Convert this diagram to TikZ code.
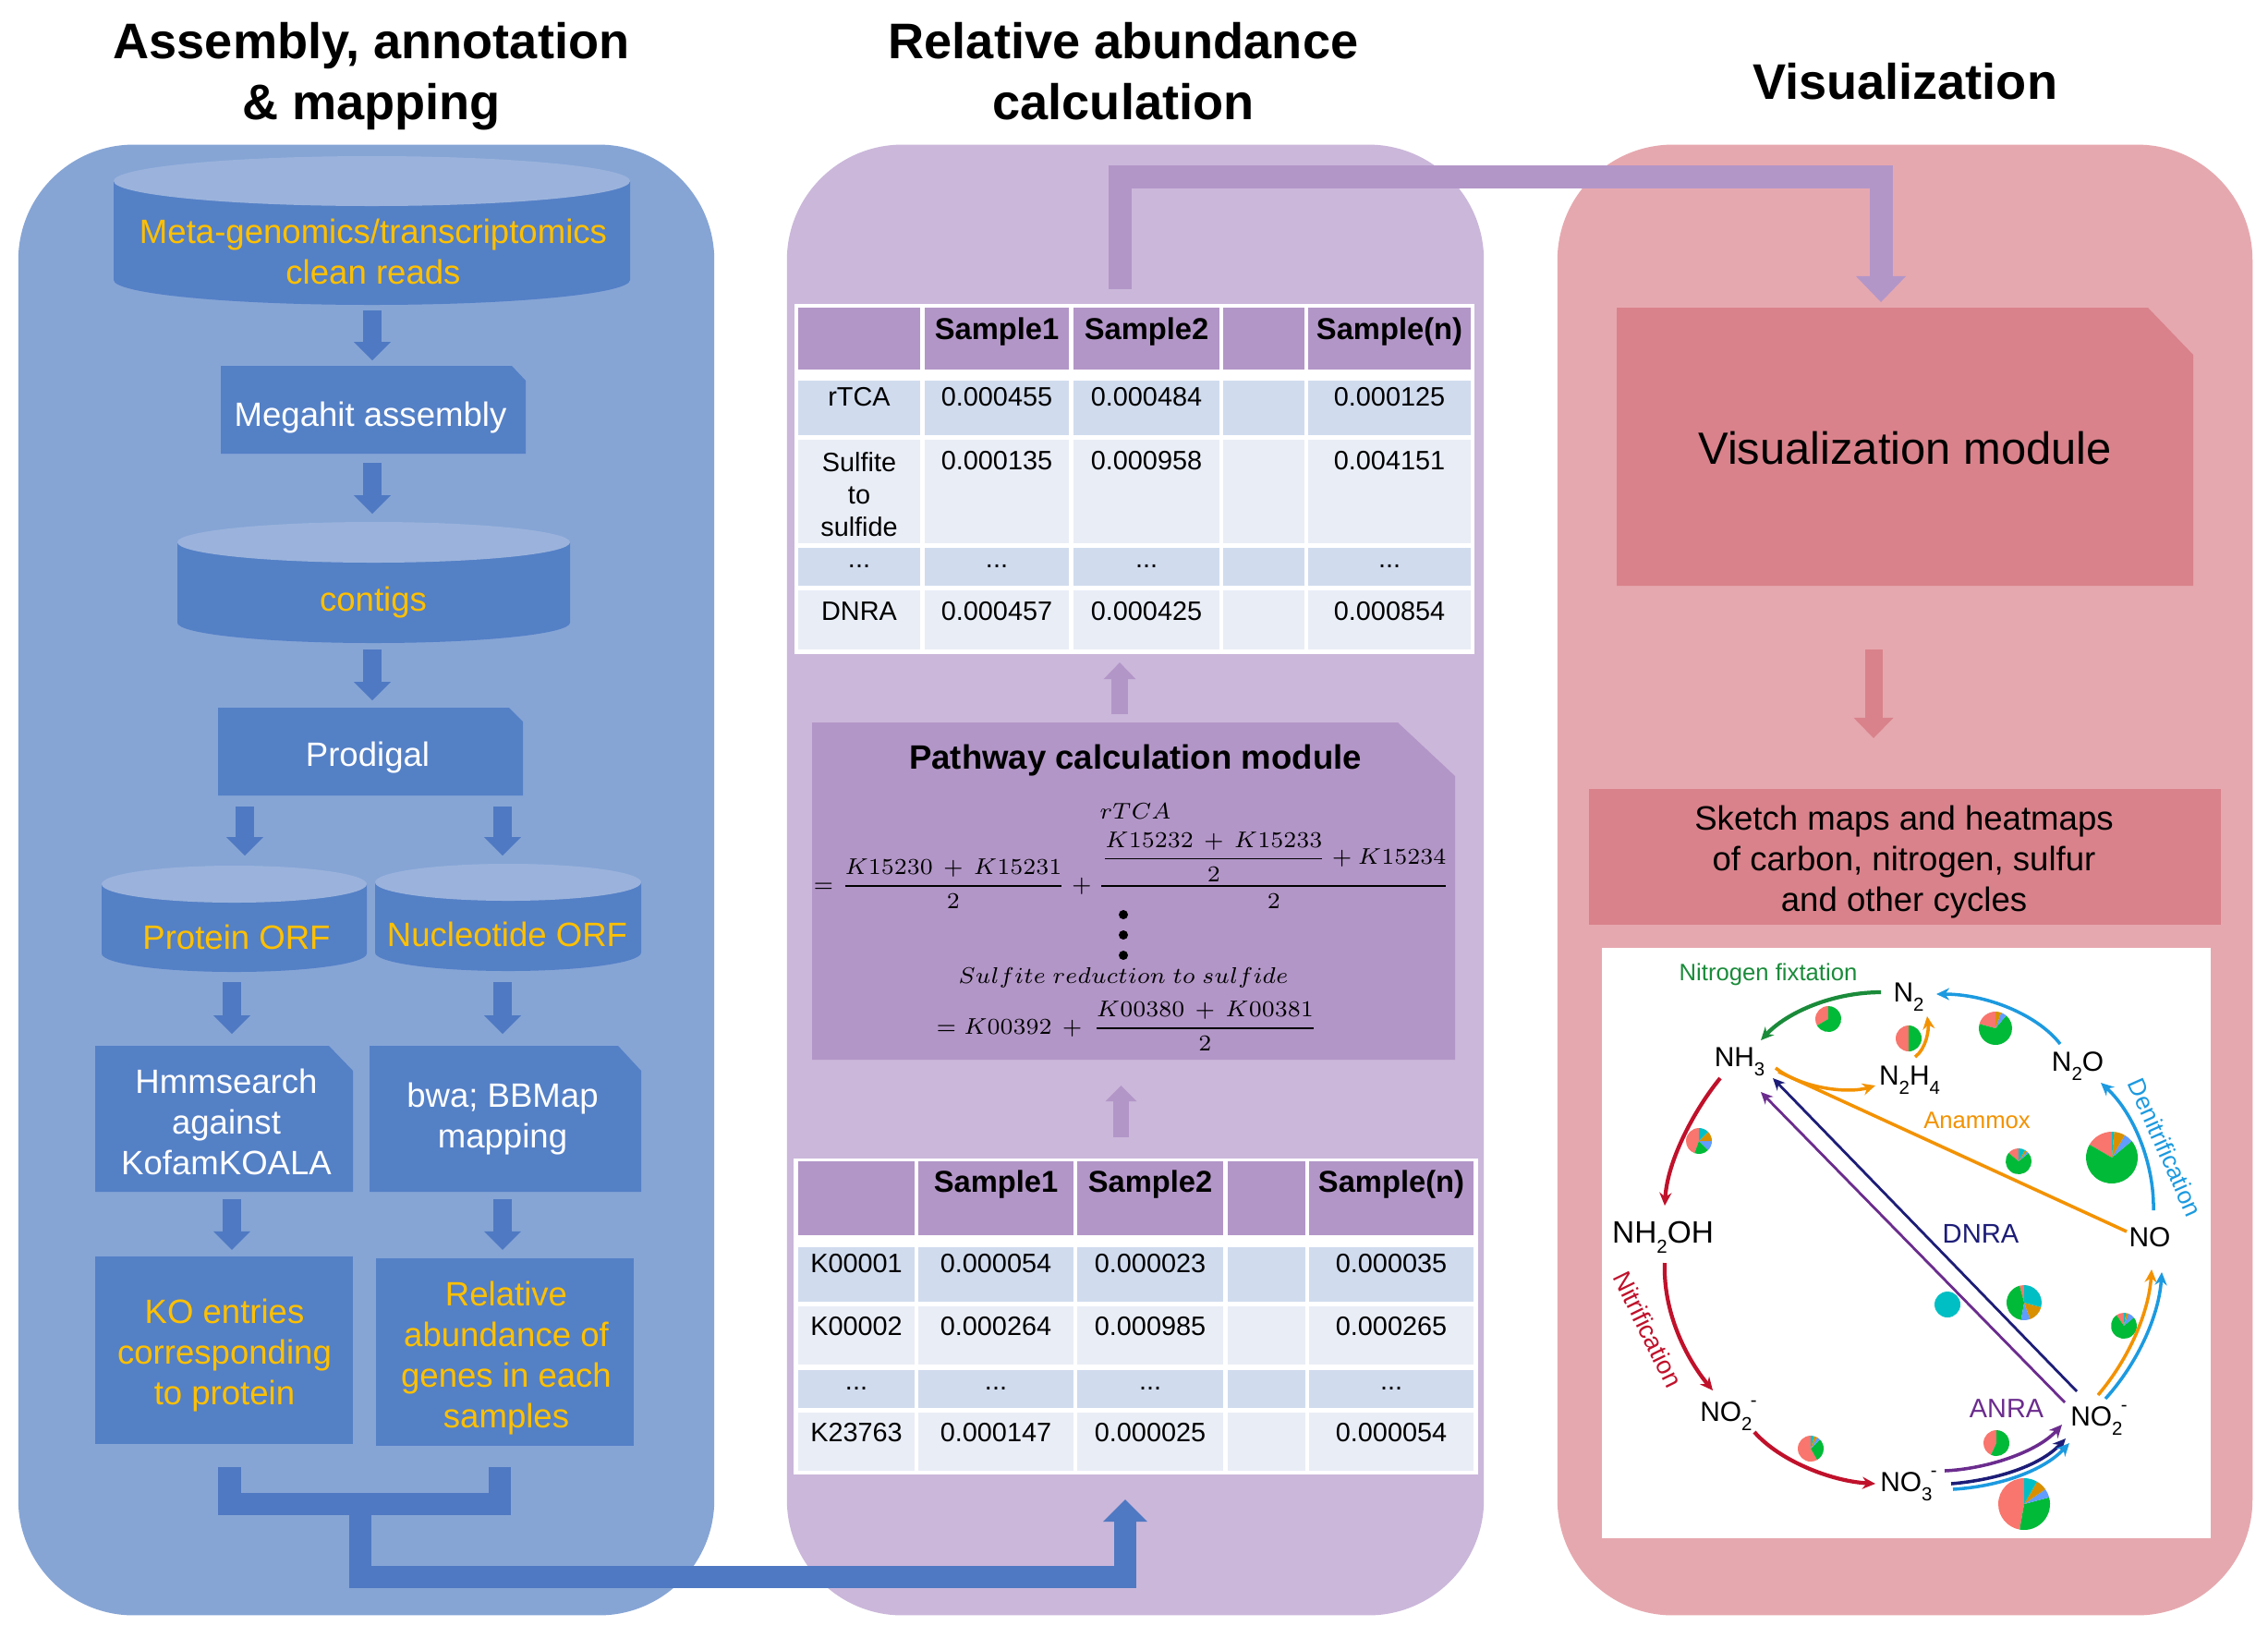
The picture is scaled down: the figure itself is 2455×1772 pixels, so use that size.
\documentclass[tikz,border=0pt]{standalone}
\usepackage{amsmath}
\usepackage[no-math]{fontspec}
\setmainfont{Liberation Sans}
\usetikzlibrary{arrows.meta,calc}
\definecolor{pblue}{HTML}{86A5D5}
\definecolor{bblue}{HTML}{5480C6}
\definecolor{ctop}{HTML}{9BB3DC}
\definecolor{ablue}{HTML}{4F79C2}
\definecolor{gold}{HTML}{FFC000}
\definecolor{ppur}{HTML}{CBB7DA}
\definecolor{bpur}{HTML}{B396C8}
\definecolor{rowA}{HTML}{D0DBEE}
\definecolor{rowB}{HTML}{E9EDF6}
\definecolor{ppink}{HTML}{E6A8AF}
\definecolor{bpink}{HTML}{D9828B}
\definecolor{sal}{HTML}{F8766D}
\definecolor{grn}{HTML}{00BA38}
\definecolor{blu}{HTML}{619CFF}
\definecolor{cyn}{HTML}{00BFC4}
\definecolor{org}{HTML}{D89000}
\definecolor{cgreen}{HTML}{1A8B3A}
\definecolor{cred}{HTML}{C0112B}
\definecolor{corange}{HTML}{F39200}
\definecolor{cblue}{HTML}{1C9AE0}
\definecolor{cnavy}{HTML}{1D1D78}
\definecolor{cpurple}{HTML}{6B2C8E}

\newcommand\chsub[1]{\raisebox{-0.34em}{\fontsize{5.8}{6}\selectfont #1}}
\newcommand\chion{\kern-0.05em\raisebox{0.52em}{\fontsize{5.8}{6}\selectfont -}}
\newcommand\mycyl[6]{%
 \fill[bblue] (#2-#5,#3) -- (#2-#5,#4) arc[start angle=180,end angle=0,x radius=#5,y radius=#6] -- (#2+#5,#3) -- cycle;
 \fill[ctop] (#2,#3) ellipse[x radius=#5,y radius=#6];
 \node[geom,minimum width={2*#5*0.01cm},minimum height={(#4-#3+2*#6)*0.01cm}] (#1) at (#2,{(#3+#4)/2}) {};}
\newcommand\mycutbox[8]{%
 \node[geom,minimum width={#4*0.01cm},minimum height={#5*0.01cm}] (#1) at (#2,#3) {};
 \fill[#8] (#1.south west) -- (#1.north west) -- ($(#1.north east)+(-#6,0)$) -- ($(#1.north east)+(0,#7)$) -- (#1.south east) -- cycle;}
\newcommand\mypie[4]{\foreach \a/\b/\c in {#4}{\fill[\c] (#1,#2) -- ++({-\a}:#3) arc[start angle={-\a},end angle={-\b},radius=#3] -- cycle;}}

\begin{document}
\begin{tikzpicture}[x=0.01cm,y=-0.01cm,
 geom/.style={inner sep=0pt,outer sep=0pt,draw=none},
 panel/.style={geom,rounded corners=1.25cm},
 ttl/.style={anchor=base,inner sep=0pt,font=\fontsize{15.4}{18}\selectfont\bfseries},
 btxt/.style={align=center,inner sep=0pt,font=\fontsize{10.4}{12.5}\selectfont},
 tb/.style={align=center,inner sep=0pt,font=\fontsize{8.2}{10}\selectfont},
 tbh/.style={inner sep=0pt,font=\fontsize{9.3}{11}\selectfont\bfseries},
 barrow/.style={draw=ablue,line width=0.2cm,-{Triangle[width=0.4cm,length=0.2cm,line width=0pt]}},
 bluebar/.style={draw=ablue,line width=0.24cm,line join=miter},
 purbar/.style={draw=bpur,line width=0.25cm,line join=miter},
 mathtxt/.style={inner sep=0pt,font=\fontsize{7.5}{9}\selectfont},
 bdot/.style={circle,fill=black,inner sep=0pt,minimum size=0.1cm},
 cyc/.style={anchor=base,inner sep=0pt,font=\fontsize{8.5}{10}\selectfont},
 ctxt/.style={inner sep=0pt},
 carrow/.style={line width=1pt,-{Stealth[length=0.14cm,width=0.13cm]}},
 cline/.style={line width=0.8pt,-{Stealth[length=0.13cm,width=0.12cm]}}]
\useasboundingbox (0,0) rectangle (2455,1772);
\fill[white] (0,0) rectangle (2455,1772);

% panels
\node[panel,fill=pblue,minimum width=7.53cm,minimum height=15.91cm] (P1) at (396.5,952.5) {};
\node[panel,fill=ppur,minimum width=7.54cm,minimum height=15.91cm] (P2) at (1229,952.5) {};
\node[panel,fill=ppink,minimum width=7.52cm,minimum height=15.91cm] (P3) at (2062,952.5) {};

% titles
\node[ttl] (T1a) at (402,63) {Assembly, annotation};
\node[ttl] (T1b) at (402,129) {\& mapping};
\node[ttl] (T2a) at (1216,63) {Relative abundance};
\node[ttl] (T2b) at (1216,129) {calculation};
\node[ttl] (T3) at (2062,107) {Visualization};

% ---------- panel 1 ----------
\mycyl{CYL1}{402.5}{196}{303}{279.5}{27}
\node[btxt,text=gold] (cyl1t) at (404,272) {Meta-genomics/transcriptomics\\clean reads};
\mycutbox{MEGA}{404}{443.5}{330}{95}{15}{16}{bblue}
\node[btxt,text=white] (megat) at (401,452) {Megahit assembly};
\mycyl{CONT}{404.5}{587}{674}{212.5}{22}
\node[btxt,text=gold] (contt) at (404,652) {contigs};
\mycutbox{PROD}{401}{813.5}{330}{95}{15}{15}{bblue}
\node[btxt,text=white] (prodt) at (398,820) {Prodigal};
\mycyl{PORF}{253.5}{957}{1032}{143.5}{20}
\node[btxt,text=gold] (porft) at (256,1014) {Protein ORF};
\mycyl{NORF}{550}{955}{1031}{144}{20}
\node[btxt,text=gold] (norft) at (549,1011) {Nucleotide ORF};
\mycutbox{HMM}{242.5}{1211}{279}{158}{26}{27}{bblue}
\node[btxt,text=white] (hmmt) at (245,1214) {Hmmsearch\\against\\KofamKOALA};
\mycutbox{BWA}{547}{1211}{294}{158}{25}{27}{bblue}
\node[btxt,text=white] (bwat) at (544,1211) {bwa; BBMap\\mapping};
\node[geom,fill=bblue,minimum width=2.79cm,minimum height=2.03cm] (KOb) at (242.5,1461.5) {};
\node[btxt,text=gold] (kot) at (243,1467) {KO entries\\corresponding\\to protein};
\node[geom,fill=bblue,minimum width=2.79cm,minimum height=2.03cm] (RAb) at (546.5,1463.5) {};
\node[btxt,text=gold] (rat) at (548,1470) {Relative\\abundance of\\genes in each\\samples};

\draw[barrow] ($(CYL1.south)+(0.5,6)$) -- ($(MEGA.north)+(-1,-6)$);
\draw[barrow] ($(MEGA.south)+(-1,10)$) -- ($(CONT.north)+(-1.5,-9)$);
\draw[barrow] ($(CONT.south)+(-1.5,7)$) -- ($(PROD.north)+(2,-8)$);
\draw[barrow] ($(PROD.south)+(-136,12)$) -- ($(PORF.north)+(11.5,-11)$);
\draw[barrow] ($(PROD.south)+(143,12)$) -- ($(NORF.north)+(-6,-9)$);
\draw[barrow] ($(PORF.south)+(-2.5,11)$) -- ($(HMM.north)+(8.5,-13)$);
\draw[barrow] ($(NORF.south)+(-6,12)$) -- ($(BWA.north)+(-3,-13)$);
\draw[barrow] ($(HMM.south)+(8.5,8)$) -- ($(KOb.north)+(8.5,-7)$);
\draw[barrow] ($(BWA.south)+(-3,8)$) -- ($(RAb.north)+(-2.5,-9)$);

% ---------- panel 2 ----------
\node[geom,fill=white,minimum width=7.36cm,minimum height=3.79cm] (T1) at (1228,518.5) {};
\foreach \xa/\xb in {864/996,1001/1157,1162/1320,1324/1412,1416/1592}{
  \foreach \ya/\yb/\cc in {333/400/bpur,412/471/rowA,476/588/rowB,593/634/rowA,639/703/rowB}{
    \fill[\cc] (\xa,\ya) rectangle (\xb,\yb);}}
\node[tbh] (t1h2) at (1079,359) {Sample1};
\node[tbh] (t1h3) at (1241,359) {Sample2};
\node[tbh] (t1h5) at (1504,359) {Sample(n)};
\node[tb] (t1a1) at (930,430) {rTCA};
\node[tb] (t1a2) at (1079,430) {0.000455};
\node[tb] (t1a3) at (1241,430) {0.000484};
\node[tb] (t1a5) at (1504,430) {0.000125};
\node[tb] (t1b1) at (930,535) {Sulfite\\to\\sulfide};
\node[tb] (t1b2) at (1079,499) {0.000135};
\node[tb] (t1b3) at (1241,499) {0.000958};
\node[tb] (t1b5) at (1504,499) {0.004151};
\node[tb] (t1c1) at (930,613) {...};
\node[tb] (t1c2) at (1079,613) {...};
\node[tb] (t1c3) at (1241,613) {...};
\node[tb] (t1c5) at (1504,613) {...};
\node[tb] (t1d1) at (930,662) {DNRA};
\node[tb] (t1d2) at (1079,662) {0.000457};
\node[tb] (t1d3) at (1241,662) {0.000425};
\node[tb] (t1d5) at (1504,662) {0.000854};

\mycutbox{FB}{1227}{964.5}{696}{365}{62}{58}{bpur}
\node[inner sep=0pt,font=\fontsize{10.4}{12}\selectfont\bfseries] (fbt) at (1229,823) {Pathway calculation module};
\node[mathtxt] (frtca) at (1229,878) {$rTCA$};
\node[mathtxt,anchor=base west] (f1) at (880,965) {$=\dfrac{K15230\,+\,K15231}{2}+\dfrac{\dfrac{K15232\,+\,K15233}{2}+K15234}{2}$};
\node[bdot] (d1) at (1216,990) {};
\node[bdot] (d2) at (1216,1012) {};
\node[bdot] (d3) at (1216,1034) {};
\node[mathtxt] (fsul) at (1216,1058) {$Sulfite\ reduction\ to\ sulfide$};
\node[mathtxt,anchor=base west] (f2) at (1013,1119) {$=K00392\,+\,\dfrac{K00380\,+\,K00381}{2}$};

\node[geom,fill=white,minimum width=7.41cm,minimum height=3.42cm] (T2) at (1229.5,1425) {};
\foreach \xa/\xb in {864/990,994/1162,1166/1324,1329/1413,1417/1595}{
  \foreach \ya/\yb/\cc in {1257/1337/bpur,1350/1409/rowA,1414/1477/rowB,1483/1524/rowA,1529/1592/rowB}{
    \fill[\cc] (\xa,\ya) rectangle (\xb,\yb);}}
\node[tbh] (t2h2) at (1078,1282) {Sample1};
\node[tbh] (t2h3) at (1245,1282) {Sample2};
\node[tbh] (t2h5) at (1506,1282) {Sample(n)};
\node[tb] (t2a1) at (927,1368) {K00001};
\node[tb] (t2a2) at (1078,1368) {0.000054};
\node[tb] (t2a3) at (1245,1368) {0.000023};
\node[tb] (t2a5) at (1506,1368) {0.000035};
\node[tb] (t2b1) at (927,1436) {K00002};
\node[tb] (t2b2) at (1078,1436) {0.000264};
\node[tb] (t2b3) at (1245,1436) {0.000985};
\node[tb] (t2b5) at (1506,1436) {0.000265};
\node[tb] (t2c1) at (927,1503) {...};
\node[tb] (t2c2) at (1078,1503) {...};
\node[tb] (t2c3) at (1245,1503) {...};
\node[tb] (t2c5) at (1506,1503) {...};
\node[tb] (t2d1) at (927,1551) {K23763};
\node[tb] (t2d2) at (1078,1551) {0.000147};
\node[tb] (t2d3) at (1245,1551) {0.000025};
\node[tb] (t2d5) at (1506,1551) {0.000054};

\draw[draw=bpur,line width=0.18cm,-{Triangle[width=0.35cm,length=0.18cm,line width=0pt]}] ($(FB.north)+(-15,-9)$) -- ($(T1.south)+(-16,9)$);
\draw[draw=bpur,line width=0.17cm,-{Triangle[width=0.34cm,length=0.17cm,line width=0pt]}] ($(T2.north)+(-16,-23)$) -- ($(FB.south)+(-13.5,28)$);

% ---------- panel 3 ----------
\mycutbox{VIS}{2062}{483.5}{624}{301}{49}{51}{bpink}
\node[inner sep=0pt,font=\fontsize{13.9}{16}\selectfont] (vist) at (2062,485) {Visualization module};
\node[geom,fill=bpink,minimum width=6.84cm,minimum height=1.47cm] (SK) at (2062,927.5) {};
\node[btxt] (skt) at (2061,933) {Sketch maps and heatmaps\\of carbon, nitrogen, sulfur\\and other cycles};
\draw[draw=bpink,line width=0.19cm,-{Triangle[width=0.43cm,length=0.22cm,line width=0pt]}] ($(VIS.south)+(-34,69)$) -- ($(SK.north)+(-34,-55)$);

\node[geom,fill=white,minimum width=6.59cm,minimum height=6.39cm] (IMG) at (2063.5,1345.5) {};
% pies
\mypie{1979}{1103}{14}{90/210/sal,210/450/grn}
\mypie{2066}{1124}{14}{90/270/sal,270/450/grn}
\mypie{2160}{1113}{18}{90/165/sal,165/410/grn,410/430/blu,430/450/org}
\mypie{1839}{1235}{14}{90/250/sal,250/315/grn,315/360/blu,360/405/org,405/450/cyn}
\mypie{2185}{1257}{14}{90/140/sal,140/400/grn,400/410/blu,410/420/org,420/450/cyn}
\mypie{2286}{1253}{28}{90/150/sal,150/400/grn,400/420/blu,420/445/org,445/450/cyn}
\mypie{2108}{1412}{14}{0/360/cyn}
\mypie{2191}{1410}{19}{90/105/sal,105/260/grn,260/290/blu,290/345/org,345/450/cyn}
\mypie{2299}{1435}{14}{90/125/sal,125/400/grn,400/430/blu,430/440/org,440/450/cyn}
\mypie{1960}{1568}{14}{90/300/sal,300/405/grn,405/420/blu,420/435/org,435/450/cyn}
\mypie{2161}{1562}{14}{90/245/sal,245/450/grn}
\mypie{2191}{1628}{28}{90/260/sal,260/375/grn,375/395/blu,395/420/org,420/450/cyn}

% cycle species
\node[cyc] (nN2) at (2066,1084) {N\chsub{2}};
\node[cyc] (nNH3) at (1883,1154) {NH\chsub{3}};
\node[cyc] (nN2H4) at (2067,1174) {N\chsub{2}H\chsub{4}};
\node[cyc] (nN2O) at (2249,1159) {N\chsub{2}O};
\node[cyc] (nNO) at (2327,1349) {NO};
\node[cyc,font=\fontsize{9.5}{11}\selectfont] (nNH2OH) at (1800,1345) {NH\chsub{2}OH};
\node[cyc] (nNO2a) at (1871,1538) {NO\chsub{2}\chion};
\node[cyc] (nNO3) at (2066,1614) {NO\chsub{3}\chion};
\node[cyc] (nNO2b) at (2272,1543) {NO\chsub{2}\chion};

% cycle labels
\node[ctxt,text=cgreen,font=\fontsize{7.3}{9}\selectfont] (lfix) at (1914,1055) {Nitrogen fixtation};
\node[ctxt,text=corange,font=\fontsize{7.3}{9}\selectfont] (lana) at (2140,1213) {Anammox};
\node[ctxt,text=cnavy,font=\fontsize{8.3}{10}\selectfont] (ldnra) at (2144,1335) {DNRA};
\node[ctxt,text=cpurple,font=\fontsize{8.2}{10}\selectfont] (lanra) at (2172,1525) {ANRA};
\node[ctxt,text=cblue,font=\fontsize{7.5}{9}\selectfont,rotate=-66] (lden) at (2344,1242) {Denitrification};
\node[ctxt,text=cred,font=\fontsize{7.8}{9}\selectfont,rotate=-64] (lnit) at (1784,1439) {Nitrification};

% cycle arrows
\draw[carrow,cgreen,line width=1.2pt] ($(nN2.base)+(-30,-10)$) .. controls +(-51,0) and +(29,-31) .. ($(nNH3.base)+(23,-28)$);
\draw[carrow,cblue] ($(nN2O.base)+(-19,-29)$) .. controls +(-25,-32) and +(54,0) .. ($(nN2.base)+(30,-8)$);
\draw[carrow,corange] ($(nNH3.base)+(39,2)$) .. controls +(28,22) and +(-30,9) .. ($(nN2H4.base)+(-37,1)$);
\draw[carrow,corange] ($(nN2H4.base)+(6,-30)$) .. controls +(12,-9) and +(2,15) .. ($(nN2.base)+(20,16)$);
\draw[corange,line width=1pt] ($(nNO.base)+(-25,-16)$) -- ($(nNH3.base)+(42,6)$);
\draw[carrow,cblue] ($(nNO.base)+(4,-39)$) .. controls +(1,-50) and +(36,33) .. ($(nN2O.base)+(25,13)$);
\draw[carrow,cred,line width=1.2pt] ($(nNH3.base)+(-21,13)$) .. controls +(-27,33) and +(3,-50) .. ($(nNH2OH.base)+(2,-40)$);
\draw[carrow,cred,line width=1.2pt] ($(nNH2OH.base)+(2,22)$) .. controls +(-2,53) and +(-29,-35) .. ($(nNO2a.base)+(-17,-33)$);
\draw[carrow,cred,line width=1.2pt] ($(nNO2a.base)+(28,12)$) .. controls +(26,30) and +(-50,-3) .. ($(nNO3.base)+(-36,-8)$);
\draw[carrow,cpurple] ($(nNO3.base)+(39,-22)$) .. controls +(45,-2) and +(-27,30) .. ($(nNO2b.base)+(-40,-1)$);
\draw[carrow,cnavy] ($(nNO3.base)+(46,-8)$) .. controls +(48,-4) and +(-28,30) .. ($(nNO2b.base)+(-36,14)$);
\draw[carrow,cblue] ($(nNO3.base)+(48,-2)$) .. controls +(50,-3) and +(-28,30) .. ($(nNO2b.base)+(-32,19)$);
\draw[carrow,corange] ($(nNO2b.base)+(-1,-33)$) .. controls +(34,-40) and +(-3,46) .. ($(nNO.base)+(2,25)$);
\draw[carrow,cblue] ($(nNO2b.base)+(7,-29)$) .. controls +(36,-40) and +(-3,46) .. ($(nNO.base)+(13,28)$);
\draw[cline,cnavy] ($(nNO2b.base)+(-24,-37)$) -- ($(nNH3.base)+(36,13)$);
\draw[cline,cpurple] ($(nNO2b.base)+(-37,-25)$) -- ($(nNH3.base)+(23,28)$);

% ---------- connectors between panels ----------
\coordinate (brL) at ($(KOb.south)+(6,25)$);
\coordinate (brR) at ($(RAb.south)+(-6,23)$);
\draw[bluebar] (brL) -- ++(0,40) -| (brR);
\coordinate (brM) at ($(brL)+(141.5,40)$);
\draw[bluebar,-{Triangle[width=0.48cm,length=0.24cm,line width=0pt]}] (brM) |- ($(T2.south)+(-11.5,111)$) -- ($(T2.south)+(-11.5,27)$);
\draw[purbar,-{Triangle[width=0.54cm,length=0.28cm,line width=0pt]}] ($(T1.north)+(-16,-16)$) |- ($(VIS.north)+(-26,-142)$) -- ($(VIS.north)+(-26,-6)$);
\end{tikzpicture}
\end{document}
